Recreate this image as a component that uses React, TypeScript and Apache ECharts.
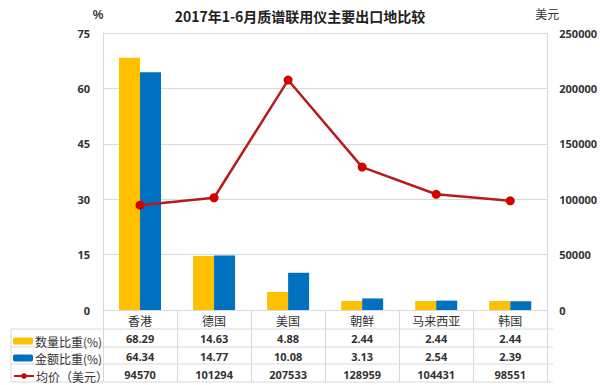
import React, { useEffect, useRef } from "react";
import * as echarts from "echarts";

const categories = ["香港", "德国", "美国", "朝鲜", "马来西亚", "韩国"];
const qtyShare = [68.29, 14.63, 4.88, 2.44, 2.44, 2.44];
const valueShare = [64.34, 14.77, 10.08, 3.13, 2.54, 2.39];
const avgPrice = [94570, 101294, 207533, 128959, 104431, 98551];
const leftTicks = { min: 0, max: 75, interval: 15 };
const rightTicks = { min: 0, max: 250000, interval: 50000 };
const seriesNames = ["数量比重(%)", "金额比重(%)", "均价（美元）"];

export default function App() {
  const ref = useRef<HTMLDivElement>(null);
  useEffect(() => {
    if (!ref.current) return;
    const chart = echarts.init(ref.current, null, { renderer: "svg" });
    const gridLeft = 103;
    const gridRight = 553;
    const lineColor = "#d9d9d9";
    const rowYs = [329, 347, 364, 382];
    const graphics: any[] = rowYs.map((y) => ({
      type: "line",
      shape: { x1: 11, y1: y, x2: gridRight, y2: y },
      style: { stroke: lineColor, lineWidth: 1 },
      silent: true,
    }));
    graphics.push({
      type: "line",
      shape: { x1: 11, y1: 329, x2: 11, y2: 382 },
      style: { stroke: lineColor, lineWidth: 1 },
      silent: true,
    });
    const legendTops = [330, 347, 365];
    const legends = seriesNames.map((n, i) => ({
      orient: "vertical",
      left: 8,
      top: legendTops[i],
      itemWidth: 20,
      itemHeight: 7,
      data: [n],
      textStyle: { fontSize: 12, color: "#333", fontFamily: "Noto Sans CJK SC", padding: [0, 0, 0, -3] },
    }));
    chart.setOption({
      animation: false,
      title: {
        text: "2017年1-6月质谱联用仪主要出口地比较",
        left: "center",
        top: 4,
        textStyle: { fontSize: 14, fontWeight: "bold", color: "#222", fontFamily: "Noto Sans CJK SC" },
      },
      grid: { left: gridLeft, right: 600 - gridRight, top: 33, bottom: 75 },
      legend: legends,
      xAxis: {
        type: "category",
        data: categories,
        axisLine: { show: true, lineStyle: { color: lineColor } },
        axisTick: { show: true, length: 72, interval: 0, lineStyle: { color: lineColor } },
        axisLabel: {
          interval: 0,
          margin: 1,
          formatter: (v: string, i: number) =>
            `{c|${v}}\n{v|${qtyShare[i].toFixed(2)}}\n{v|${valueShare[i].toFixed(2)}}\n{v|${avgPrice[i]}}`,
          rich: {
            c: { fontSize: 12, lineHeight: 18, color: "#333", fontFamily: "Noto Sans CJK SC" },
            v: { fontSize: 11, lineHeight: 18, color: "#333", fontWeight: "bold", fontFamily: "Open Sans" },
          },
        },
      },
      yAxis: [
        {
          type: "value",
          ...leftTicks,
          name: "%",
          nameGap: 12,
          nameTextStyle: { fontSize: 12, fontWeight: "bold", color: "#333", padding: [0, 10, 0, 0] },
          axisLine: { show: true, lineStyle: { color: lineColor } },
          axisTick: { show: false },
          axisLabel: { fontSize: 11, fontWeight: "bold", color: "#333", margin: 13, fontFamily: "Open Sans" },
          splitLine: { lineStyle: { color: lineColor } },
        },
        {
          type: "value",
          ...rightTicks,
          name: "美元",
          nameGap: 14,
          nameTextStyle: { fontSize: 12, color: "#333", fontFamily: "Noto Sans CJK SC", padding: [0, 0, 0, 0] },
          axisLine: { show: true, lineStyle: { color: lineColor } },
          axisTick: { show: false },
          axisLabel: {
            fontSize: 11,
            fontWeight: "bold",
            color: "#333",
            margin: 12,
            fontFamily: "Open Sans",
            formatter: (v: number) => String(v),
          },
          splitLine: { show: false },
        },
      ],
      series: [
        {
          name: seriesNames[0],
          type: "bar",
          data: qtyShare,
          barWidth: 21,
          barGap: "0%",
          itemStyle: { color: "#FFC000" },
        },
        {
          name: seriesNames[1],
          type: "bar",
          data: valueShare,
          barWidth: 21,
          itemStyle: { color: "#0070C0" },
        },
        {
          name: seriesNames[2],
          type: "line",
          yAxisIndex: 1,
          data: avgPrice,
          symbol: "circle",
          symbolSize: 9,
          lineStyle: { color: "#B71C1C", width: 2.5 },
          itemStyle: { color: "#D50000" },
        },
      ],
      graphic: graphics,
    });
    return () => chart.dispose();
  }, []);
  return <div ref={ref} style={{ width: 600, height: 385, position: "absolute", left: 0, top: 0 }} />;
}
